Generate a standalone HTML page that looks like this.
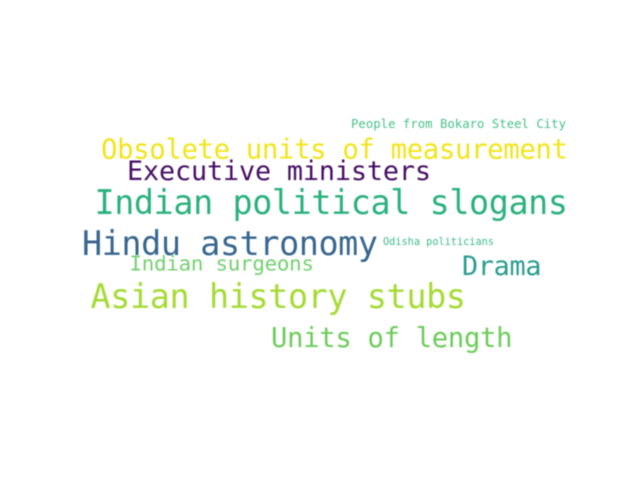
<!DOCTYPE html>
<html lang="en">
<head>
<meta charset="utf-8">
<title>Word cloud</title>
<style>
html,body{margin:0;padding:0;background:#fff;width:640px;height:480px;overflow:hidden}
svg{display:block}
text{font-family:"DejaVu Sans Mono","Liberation Mono",monospace;white-space:pre}
</style>
</head>
<body>
<svg width="640" height="480" viewBox="0 0 640 480" xmlns="http://www.w3.org/2000/svg">
<defs><filter id="soft" x="-5%" y="-20%" width="110%" height="140%"><feGaussianBlur stdDeviation="0.5"/></filter></defs>
<rect width="640" height="480" fill="#ffffff"/>
<g filter="url(#soft)">
<text x="351" y="128" font-size="12.3" fill="#48c28a" textLength="215">People from Bokaro Steel City</text>
<text x="101" y="158.5" font-size="27.4" fill="#f1e51d" textLength="467">Obsolete units of measurement</text>
<text x="127" y="180" font-size="26.8" fill="#471164" textLength="304">Executive ministers</text>
<text x="94.5" y="214" font-size="33.4" fill="#2cb17e" textLength="473.5">Indian political slogans</text>
<text x="82" y="255" font-size="33.4" fill="#38668f" textLength="296">Hindu astronomy</text>
<text x="383" y="245" font-size="10.3" fill="#3fbc8a" textLength="111">Odisha politicians</text>
<text x="129.5" y="270.5" font-size="20.8" fill="#73d06f" textLength="184.5">Indian surgeons</text>
<text x="462" y="275" font-size="26.8" fill="#2a9c8e" textLength="79.5">Drama</text>
<text x="90.5" y="308" font-size="33.4" fill="#a5db36" textLength="375.5">Asian history stubs</text>
<text x="271" y="347" font-size="27.2" fill="#6ccd5a" textLength="241.5">Units of length</text>
</g>
</svg>
</body>
</html>
